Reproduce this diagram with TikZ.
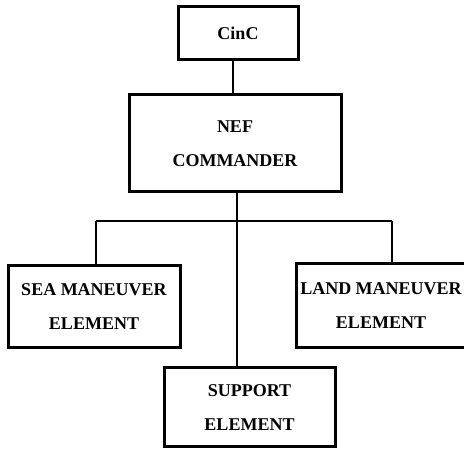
\documentclass[tikz,border=0pt]{standalone}
\usepackage{fontspec}
\setmainfont{Liberation Serif}
\begin{document}
\begin{tikzpicture}[x=1pt,y=1pt,
  orgbox/.style={draw,line width=3pt,inner sep=0pt,align=center,
    font=\bfseries\fontsize{18}{34}\selectfont},
  link/.style={line width=2pt}]
\useasboundingbox (0,0) rectangle (464,450);
\node[orgbox,minimum width=120pt,minimum height=53pt] (cinc) at (238,416.5) {CinC};
\node[orgbox,minimum width=212pt,minimum height=97pt] (nef) at (235,306.5) {NEF\\COMMANDER};
\node[orgbox,minimum width=172pt,minimum height=82pt] (sea) at (94,143) {SEA MANEUVER\\ELEMENT};
\node[orgbox,minimum width=170pt,minimum height=84pt] (land) at (381,144) {LAND MANEUVER\\ELEMENT};
\node[orgbox,minimum width=171pt,minimum height=79pt] (sup) at (249.5,42.5) {SUPPORT\\ELEMENT};
\coordinate (cx) at (233,0);
\coordinate (busL) at (96,229);
\coordinate (busM) at (237,229);
\coordinate (busR) at (392,229);
\draw[link] (cinc.south -| cx) -- (nef.north -| cx);
\draw[link] (nef.south -| busM) -- (busM);
\draw[link] (busL) -- (busR);
\draw[link] (busL) -- (sea.north -| busL);
\draw[link] (busR) -- (land.north -| busR);
\draw[link] (busM) -- (sup.north -| busM);
\end{tikzpicture}
\end{document}
